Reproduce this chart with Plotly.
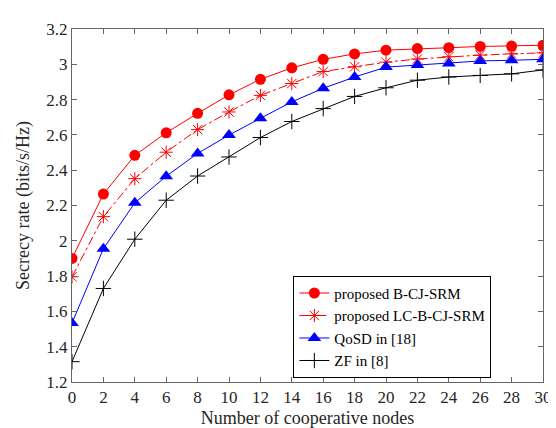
import plotly.graph_objects as go

x = [0, 2, 4, 6, 8, 10, 12, 14, 16, 18, 20, 22, 24, 26, 28, 30]
b_cj_srm = [1.900, 2.265, 2.484, 2.612, 2.722, 2.827, 2.915, 2.980, 3.028, 3.059, 3.080, 3.089, 3.094, 3.101, 3.103, 3.108]
lc_b_cj_srm = [1.796, 2.137, 2.352, 2.502, 2.630, 2.730, 2.824, 2.891, 2.959, 2.986, 3.012, 3.030, 3.043, 3.052, 3.059, 3.065]
qosd = [1.534, 1.955, 2.215, 2.366, 2.495, 2.599, 2.694, 2.787, 2.864, 2.928, 2.984, 2.996, 3.005, 3.019, 3.023, 3.028]
zf = [1.315, 1.730, 2.009, 2.230, 2.367, 2.475, 2.585, 2.676, 2.749, 2.818, 2.867, 2.910, 2.928, 2.937, 2.946, 2.968]

names = ["proposed B-CJ-SRM", "proposed LC-B-CJ-SRM", "QoSD in [18]", "ZF in [8]"]

fig = go.Figure()
fig.add_trace(go.Scatter(x=x, y=b_cj_srm, name=names[0], mode="lines+markers",
                         line=dict(color="#ff0000", width=1),
                         marker=dict(symbol="circle", size=11, color="#ff0000")))
fig.add_trace(go.Scatter(x=x, y=lc_b_cj_srm, name=names[1], mode="lines+markers",
                         line=dict(color="#ff0000", width=1, dash="dashdot"),
                         marker=dict(symbol="asterisk-open", size=11, color="#ff0000",
                                     line=dict(color="#ff0000", width=1))))
fig.add_trace(go.Scatter(x=x, y=qosd, name=names[2], mode="lines+markers",
                         line=dict(color="#0000ff", width=1),
                         marker=dict(symbol="triangle-up", size=12, color="#0000ff")))
fig.add_trace(go.Scatter(x=x, y=zf, name=names[3], mode="lines+markers",
                         line=dict(color="#000000", width=1),
                         marker=dict(symbol="cross-thin-open", size=11, color="#000000",
                                     line=dict(color="#000000", width=1))))

axis_common = dict(showline=True, linecolor="#666666", linewidth=1, mirror="ticks",
                   ticks="inside", ticklen=5, tickcolor="#666666", showgrid=False,
                   zeroline=False, tickfont=dict(family="Liberation Serif", size=17, color="#262626"))

fig.update_xaxes(range=[0, 30], tickmode="array", tickvals=list(range(0, 31, 2)),
                 title=dict(text="Number of cooperative nodes", standoff=4,
                            font=dict(family="Liberation Serif", size=18, color="#262626")),
                 **axis_common)
fig.update_yaxes(range=[1.2, 3.2], tickmode="array",
                 tickvals=[1.2, 1.4, 1.6, 1.8, 2.0, 2.2, 2.4, 2.6, 2.8, 3.0, 3.2],
                 ticktext=["1.2", "1.4", "1.6", "1.8", "2", "2.2", "2.4", "2.6", "2.8", "3", "3.2"],
                 title=dict(text="Secrecy rate (bits/s/Hz)", standoff=12,
                            font=dict(family="Liberation Serif", size=18, color="#262626")),
                 **axis_common)

fig.update_layout(
    width=556, height=428,
    margin=dict(l=64, r=14, t=12, b=51),
    plot_bgcolor="white", paper_bgcolor="white",
    showlegend=True,
    legend=dict(x=0.47, y=0.301, xanchor="left", yanchor="top",
                bgcolor="white", bordercolor="#000000", borderwidth=1,
                font=dict(family="Liberation Serif", size=15, color="#000000"),
                tracegroupgap=0, itemwidth=30, entrywidth=235, entrywidthmode="pixels"),
)

fig.write_html("out.html")
